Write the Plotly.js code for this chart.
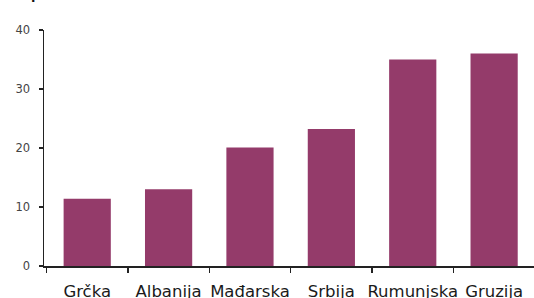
<!DOCTYPE html>
<html>
<head>
<meta charset="utf-8">
<script src="https://cdn.plot.ly/plotly-3.0.1.min.js"></script>
<style>html,body{margin:0;padding:0;background:#fff;}#chart{width:534px;height:298px;}</style>
</head>
<body>
<div id="chart"></div>
<script>
const categories = ["Grčka", "Albanija", "Mađarska", "Srbija", "Rumunjska", "Gruzija"];
const values = [11.4, 13.0, 20.1, 23.2, 35.0, 36.0];
const yTicks = [0, 10, 20, 30, 40];

const trace = {
  type: "bar",
  x: categories,
  y: values,
  marker: {color: "#943B6A", line: {width: 0}},
  width: 0.58,
  hoverinfo: "skip"
};

const layout = {
  width: 534,
  height: 298,
  margin: {l: 44, r: 0, t: 30, b: 32, pad: 0},
  paper_bgcolor: "#fff",
  plot_bgcolor: "#fff",
  showlegend: false,
  font: {family: "DejaVu Sans, sans-serif", color: "#222"},
  xaxis: {
    type: "category",
    range: [-0.531, 5.49],
    showline: true,
    linecolor: "#222",
    linewidth: 1.5,
    ticks: "outside",
    tickson: "boundaries",
    ticklen: 5,
    tickcolor: "#222",
    tickwidth: 1.5,
    tickangle: 0,
    showgrid: false,
    zeroline: false,
    tickfont: {size: 16.5, color: "#1a1a1a"},
    ticklabelstandoff: 10
  },
  yaxis: {
    range: [0, 40],
    tickvals: yTicks,
    showline: true,
    linecolor: "#222",
    linewidth: 1.5,
    ticks: "outside",
    ticklen: 4,
    tickcolor: "#222",
    tickwidth: 1.5,
    showgrid: false,
    zeroline: false,
    tickfont: {size: 11.5, color: "#444"},
    ticklabelstandoff: 6
  },
  annotations: [{
    text: "p",
    xref: "paper", yref: "paper",
    x: -0.016, y: 1.114,
    xanchor: "center", yanchor: "bottom",
    showarrow: false,
    borderpad: 0,
    font: {size: 16, color: "#111", family: "Liberation Sans, Arial, sans-serif", weight: "bold"}
  }]
};

Plotly.newPlot("chart", [trace], layout, {staticPlot: true, displayModeBar: false});
</script>
</body>
</html>
